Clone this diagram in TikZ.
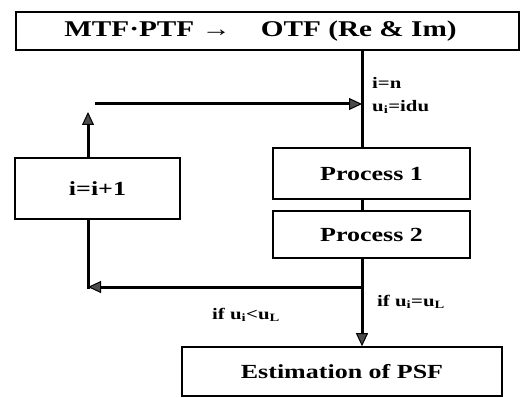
\documentclass[tikz,border=0pt]{standalone}
\usepackage{fontspec}
\setmainfont{Liberation Serif}[FakeStretch=1.3]
\usepackage{tikz}
\usetikzlibrary{arrows.meta, positioning}

\begin{document}
\begin{tikzpicture}[
  x=1pt, y=-1pt, font=\bfseries\fontsize{20}{23}\selectfont,
  box/.style={draw, line width=1.6pt, inner sep=0pt, align=center},
  line/.style={line width=3pt},
  arr/.style={line width=3pt, -{Triangle[length=13pt, width=12pt, fill=black!70, line width=1pt]}},
  lbl/.style={anchor=west, inner sep=0pt, font=\bfseries\fontsize{16}{18}\selectfont}
]
  \useasboundingbox (0,0) rectangle (521,398);
  \node[box, minimum width=503pt, minimum height=38pt,
    font=\bfseries\fontsize{22.5}{25}\selectfont] (otf) at (267.5,31)
    {MTF·PTF →\hspace{30pt}OTF (Re \& Im)\hspace*{14pt}};
  \node[box, minimum width=197pt, minimum height=51pt] (proc1) at (371.5,173.5) {Process 1};
  \node[box, minimum width=197pt, minimum height=47pt] (proc2) at (371.5,234.5) {Process 2};
  \node[box, minimum width=165pt, minimum height=61pt] (inc) at (97.5,188.5) {i=i+1};
  \node[box, minimum width=320pt, minimum height=49pt] (psf) at (342,371.5) {Estimation of PSF};

  \coordinate (upend) at (88,112);
  \coordinate (rettop) at (95,104);
  \coordinate (split) at (362,287);
  \coordinate (retend) at (88,287);

  \node[lbl] (init1) at (372,83) {i=n};
  \node[lbl] (init2) at (372,107) {u\textsubscript{i}=idu};
  \node[lbl] (stop) at (377,302) {if u\textsubscript{i}=u\textsubscript{L}};
  \node[lbl] (loop) at (212,315) {if u\textsubscript{i}<u\textsubscript{L}};

  \draw[line] (otf.south -| split) -- (proc1.north -| split);
  \draw[line] (proc1.south -| split) -- (proc2.north -| split);
  \draw[line] (proc2.south -| split) -- (split);
  \draw[arr] (split) -- (psf.north -| split);
  \draw[arr] (split) -- (retend);
  \draw[line] (inc.south -| retend) -- ([yshift=-1.5pt]retend);
  \draw[arr] (inc.north -| upend) -- (upend);
  \draw[arr] (rettop) -- (rettop -| split);
\end{tikzpicture}
\end{document}
